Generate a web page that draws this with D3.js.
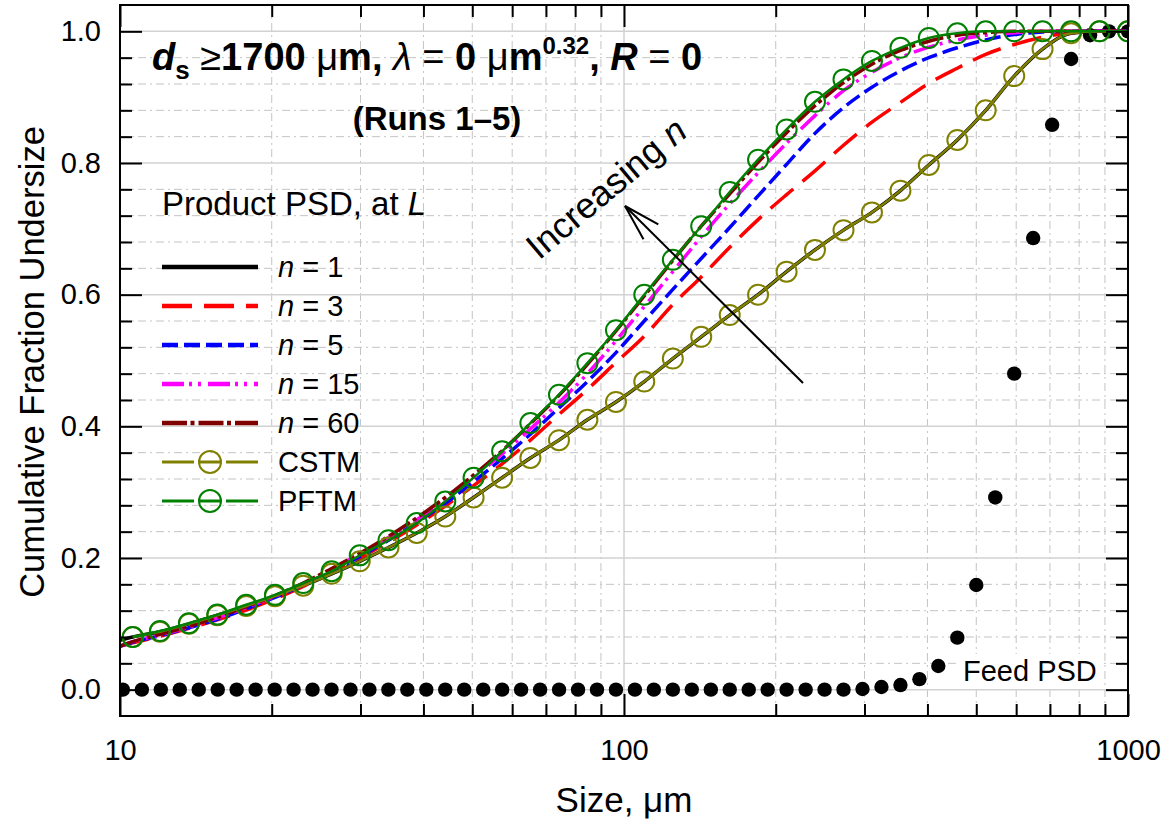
<!DOCTYPE html>
<html>
<head>
<meta charset="utf-8">
<script src="https://cdn.jsdelivr.net/npm/d3@7"></script>
<style>
  body { margin: 0; background: #fff; }
  svg { font-family: "Liberation Sans", Arial, sans-serif; }
</style>
</head>
<body>
<svg id="chart" width="1170" height="828"></svg>
<script>
// Feed PSD: sieve sizes (um) and cumulative fraction undersize
const feedSizes = [10.13, 11.05, 12.05, 13.14, 14.33, 15.63, 17.04, 18.58, 20.27, 22.1,
  24.1, 26.28, 28.66, 31.25, 34.08, 37.16, 40.53, 44.19, 48.19, 52.56,
  57.31, 62.5, 68.16, 74.33, 81.06, 88.39, 96.39, 105.1, 114.6, 125,
  136.3, 148.7, 162.1, 176.8, 192.8, 210.2, 229.3, 250, 272.6, 297.3,
  324.2, 353.6, 385.6, 420.4, 458.5, 500, 545.3, 594.6, 648.4, 707.1,
  771.1, 840.9, 917.0, 1000];
const feedValues = [0, 0, 0, 0, 0, 0, 0, 0, 0, 0,
  0, 0, 0, 0, 0, 0, 0, 0, 0, 0,
  0, 0, 0, 0, 0, 0, 0, 0, 0, 0,
  0, 0, 0, 0, 0, 0, 0, 0, 0, 0.001,
  0.004, 0.007, 0.016, 0.036, 0.079, 0.159, 0.292, 0.480, 0.686, 0.858,
  0.958, 0.994, 1.0, 1.0];

// model curves (n = 1..60), sizes in um
const lineSizes = [10, 10.6, 12.0, 13.7, 15.6, 17.8, 20.3, 23.1, 26.3, 29.9,
  34.1, 38.8, 44.2, 50.3, 57.3, 65.2, 74.3, 84.6, 96.4, 109.7,
  125.0, 142.3, 162.1, 184.5, 210.2, 239.3, 272.6, 310.4, 353.6, 402.5,
  458.5, 522.0, 594.6, 676.8, 770.9, 878.0, 1000];
const n1Values = [0.075, 0.080, 0.088, 0.100, 0.113, 0.127, 0.142, 0.158, 0.176, 0.195,
  0.216, 0.238, 0.263, 0.292, 0.322, 0.352, 0.379, 0.410, 0.437, 0.468,
  0.503, 0.536, 0.569, 0.600, 0.635, 0.668, 0.698, 0.725, 0.758, 0.797,
  0.835, 0.880, 0.932, 0.973, 0.997, 1.0, 1.0];
const n3Values = [0.066, 0.071, 0.081, 0.093, 0.106, 0.121, 0.138, 0.157, 0.178, 0.200,
  0.224, 0.250, 0.279, 0.310, 0.343, 0.379, 0.418, 0.456, 0.497, 0.537,
  0.585, 0.627, 0.672, 0.714, 0.752, 0.788, 0.827, 0.862, 0.892, 0.921,
  0.944, 0.965, 0.980, 0.991, 0.998, 1.0, 1.0];
const n5Values = [0.066, 0.072, 0.082, 0.094, 0.107, 0.123, 0.140, 0.159, 0.180, 0.202,
  0.227, 0.254, 0.283, 0.316, 0.351, 0.388, 0.428, 0.468, 0.512, 0.560,
  0.608, 0.655, 0.702, 0.750, 0.798, 0.845, 0.884, 0.915, 0.940, 0.960,
  0.975, 0.987, 0.995, 0.999, 1.0, 1.0, 1.0];
const n15Values = [0.066, 0.073, 0.083, 0.095, 0.109, 0.125, 0.142, 0.161, 0.183, 0.206,
  0.231, 0.258, 0.289, 0.322, 0.358, 0.396, 0.436, 0.480, 0.530, 0.582,
  0.635, 0.688, 0.738, 0.785, 0.830, 0.872, 0.910, 0.938, 0.960, 0.976,
  0.987, 0.994, 0.998, 1.0, 1.0, 1.0, 1.0];
const n60Values = [0.066, 0.073, 0.084, 0.096, 0.110, 0.126, 0.143, 0.162, 0.184, 0.207,
  0.233, 0.261, 0.292, 0.326, 0.363, 0.404, 0.447, 0.494, 0.545, 0.598,
  0.652, 0.704, 0.753, 0.801, 0.846, 0.887, 0.922, 0.950, 0.971, 0.985,
  0.994, 0.998, 1.0, 1.0, 1.0, 1.0, 1.0];

// tank-model results (symbols)
const markerSizes = [10.6, 12.0, 13.7, 15.6, 17.8, 20.3, 23.1, 26.3, 29.9, 34.1,
  38.8, 44.2, 50.3, 57.3, 65.2, 74.3, 84.6, 96.4, 109.7, 125.0,
  142.3, 162.1, 184.5, 210.2, 239.3, 272.6, 310.4, 353.6, 402.5, 458.5,
  522.0, 594.6, 676.8, 770.9, 878.0, 1000];
const cstmValues = [0.080, 0.088, 0.100, 0.113, 0.127, 0.142, 0.158, 0.176, 0.195, 0.216,
  0.238, 0.263, 0.292, 0.322, 0.352, 0.379, 0.410, 0.437, 0.468, 0.503,
  0.536, 0.569, 0.600, 0.635, 0.668, 0.698, 0.725, 0.758, 0.797, 0.835,
  0.880, 0.932, 0.973, 0.997, 1.0, 1.0];
const pftmValues = [0.080, 0.089, 0.101, 0.114, 0.129, 0.144, 0.162, 0.180, 0.204, 0.227,
  0.253, 0.286, 0.322, 0.362, 0.405, 0.448, 0.496, 0.546, 0.600, 0.653,
  0.704, 0.756, 0.805, 0.851, 0.893, 0.927, 0.955, 0.975, 0.990, 0.997,
  1.0, 1.0, 1.0, 1.0, 1.0, 1.0];

const xTickLabels = [10, 100, 1000];
const yTickLabels = [0, 0.2, 0.4, 0.6, 0.8, 1.0];

const lineSeries = [
  { name: '1', values: n1Values, color: '#000000', dash: null },
  { name: '3', values: n3Values, color: '#ff0000', dash: '30,12' },
  { name: '5', values: n5Values, color: '#0000ff', dash: '16,6' },
  { name: '15', values: n15Values, color: '#ff00ff', dash: '22,5,3,6,3,7' },
  { name: '60', values: n60Values, color: '#800000', dash: '25,3.5,4,4' }
];
const markerSeries = [
  { name: 'CSTM', values: cstmValues, color: '#808000' },
  { name: 'PFTM', values: pftmValues, color: '#008000' }
];

const svg = d3.select('#chart');
const plotLeft = 120, plotRight = 1128, plotTop = 5, plotBottom = 716;

const x = d3.scaleLog().domain([10, 1000]).range([plotLeft, plotRight]);
const y = d3.scaleLinear().domain([-0.04, 1.04]).range([plotBottom, plotTop]);

// --- grid ---
const grid = svg.append('g');
const xGrid = x.ticks().filter(d => d > 10 && d < 1000);
const isMajorX = d => Math.abs(Math.log10(d) - Math.round(Math.log10(d))) < 1e-9;
grid.selectAll('.gx').data(xGrid).enter().append('line')
  .attr('x1', d => x(d)).attr('x2', d => x(d))
  .attr('y1', plotTop).attr('y2', plotBottom)
  .attr('stroke', d => isMajorX(d) ? '#d2d2d2' : '#c4c4c4')
  .attr('stroke-width', d => isMajorX(d) ? 1.5 : 1)
  .attr('stroke-dasharray', d => isMajorX(d) ? null : '8,4,2,4');

const yGrid = d3.range(0, 1.0001, 0.04);
const isMajorY = d => Math.abs(d * 5 - Math.round(d * 5)) < 1e-6;
grid.selectAll('.gy').data(yGrid).enter().append('line')
  .attr('x1', plotLeft).attr('x2', plotRight)
  .attr('y1', d => y(d)).attr('y2', d => y(d))
  .attr('stroke', d => isMajorY(d) ? '#d2d2d2' : '#c4c4c4')
  .attr('stroke-width', d => isMajorY(d) ? 1.5 : 1)
  .attr('stroke-dasharray', d => isMajorY(d) ? null : '8,4,2,4');

// --- feed PSD label with white box ---
svg.append('rect').attr('x', 958).attr('y', 654).attr('width', 144).attr('height', 33).attr('fill', '#fff');
svg.append('text').attr('x', 963).attr('y', 681).attr('font-size', 29).text('Feed PSD');

// --- curves ---
svg.append('clipPath').attr('id', 'plot-clip').append('rect')
  .attr('x', plotLeft).attr('y', plotTop).attr('width', plotRight - plotLeft).attr('height', plotBottom - plotTop);
const plot = svg.append('g').attr('clip-path', 'url(#plot-clip)');

plot.selectAll('.feed').data(feedSizes).enter().append('circle')
  .attr('cx', d => x(d)).attr('cy', (d, i) => y(feedValues[i]))
  .attr('r', 7.2).attr('fill', '#000');

const line = d3.line()
  .x(d => x(d[0])).y(d => y(d[1]))
  .curve(d3.curveMonotoneX);

lineSeries.forEach(s => {
  plot.append('path')
    .datum(lineSizes.map((sz, i) => [sz, s.values[i]]))
    .attr('d', line)
    .attr('fill', 'none')
    .attr('stroke', s.color)
    .attr('stroke-width', 3.5)
    .attr('stroke-dasharray', s.dash);
});

markerSeries.forEach(s => {
  const pts = markerSizes.map((sz, i) => [sz, s.values[i]]);
  plot.append('path').datum(pts).attr('d', line)
    .attr('fill', 'none').attr('stroke', s.color).attr('stroke-width', 2.5);
  plot.selectAll(null).data(pts).enter().append('circle')
    .attr('cx', d => x(d[0])).attr('cy', d => y(d[1]))
    .attr('r', 10).attr('fill', 'none')
    .attr('stroke', s.color).attr('stroke-width', 2);
});

// --- axes (ticks point inward) ---
const fontFamily = '"Liberation Sans", Arial, sans-serif';
const minorX = x.ticks().filter(d => !isMajorX(d));
const minorY = yGrid.filter(d => !isMajorY(d));

function styleAxis(g) {
  g.select('.domain').remove();
  g.selectAll('.tick line').attr('stroke', '#000').attr('stroke-width', 2);
  g.attr('font-family', fontFamily).attr('font-size', 29);
  g.selectAll('.tick text').attr('fill', '#000');
}

svg.append('g').attr('transform', `translate(0,${plotBottom})`)
  .call(d3.axisBottom(x).tickValues(minorX).tickSize(-12).tickFormat(''))
  .call(styleAxis);
svg.append('g').attr('transform', `translate(0,${plotBottom})`)
  .call(d3.axisBottom(x).tickValues(xTickLabels).tickSize(-22).tickPadding(23).tickFormat(d3.format('d')))
  .call(styleAxis);
svg.append('g').attr('transform', `translate(0,${plotTop})`)
  .call(d3.axisTop(x).tickValues(minorX).tickSize(-12).tickFormat(''))
  .call(styleAxis);
svg.append('g').attr('transform', `translate(0,${plotTop})`)
  .call(d3.axisTop(x).tickValues(xTickLabels).tickSize(-22).tickFormat(''))
  .call(styleAxis);

svg.append('g').attr('transform', `translate(${plotLeft},0)`)
  .call(d3.axisLeft(y).tickValues(minorY).tickSize(-12).tickFormat(''))
  .call(styleAxis);
svg.append('g').attr('transform', `translate(${plotLeft},0)`)
  .call(d3.axisLeft(y).tickValues(yTickLabels).tickSize(-22).tickPadding(19).tickFormat(d3.format('.1f')))
  .call(styleAxis);
svg.append('g').attr('transform', `translate(${plotRight},0)`)
  .call(d3.axisRight(y).tickValues(minorY).tickSize(-12).tickFormat(''))
  .call(styleAxis);
svg.append('g').attr('transform', `translate(${plotRight},0)`)
  .call(d3.axisRight(y).tickValues(yTickLabels).tickSize(-22).tickFormat(''))
  .call(styleAxis);

svg.append('rect')
  .attr('x', plotLeft).attr('y', plotTop).attr('width', plotRight - plotLeft).attr('height', plotBottom - plotTop)
  .attr('fill', 'none').attr('stroke', '#000').attr('stroke-width', 2);

// axis titles
svg.append('text').attr('x', 624).attr('y', 812).attr('text-anchor', 'middle')
  .attr('font-size', 35).text('Size, \u03bcm');
svg.append('text').attr('transform', 'translate(44,362) rotate(-90)')
  .attr('text-anchor', 'middle').attr('font-size', 34.5).text('Cumulative Fraction Undersize');

// --- title ---
const title = svg.append('text').attr('x', 152).attr('y', 70)
  .attr('font-size', 38).attr('font-weight', 'bold').style('white-space', 'pre');
const titleParts = [
  { t: 'd', italic: true },
  { t: 's', shift: 9, size: 26 },
  { t: ' \u2265', normal: true, shift: -9 },
  { t: '1700 ' },
  { t: '\u03bc', normal: true },
  { t: 'm, ' },
  { t: '\u03bb', italic: true, normal: true },
  { t: ' = ', normal: true },
  { t: '0 ' },
  { t: '\u03bc', normal: true },
  { t: 'm' },
  { t: '0.32', shift: -16, size: 24 },
  { t: ', ', shift: 16 },
  { t: 'R', italic: true },
  { t: ' = ', normal: true },
  { t: '0' }
];
titleParts.forEach(p => {
  const ts = title.append('tspan').text(p.t);
  if (p.italic) ts.attr('font-style', 'italic');
  if (p.normal) ts.attr('font-weight', 'normal');
  if (p.shift) ts.attr('dy', p.shift);
  if (p.size) ts.attr('font-size', p.size);
});
svg.append('text').attr('x', 437).attr('y', 130).attr('text-anchor', 'middle')
  .attr('font-size', 33).attr('font-weight', 'bold').text('(Runs 1\u20135)');

// --- legend ---
const legend = svg.append('g').attr('font-size', 29).style('white-space', 'pre');
const header = legend.append('text').attr('x', 162).attr('y', 215).attr('font-size', 33);
header.append('tspan').text('Product PSD, at ');
header.append('tspan').attr('font-style', 'italic').text('L');

const rowY = i => 267 + i * 39;
lineSeries.forEach((s, i) => {
  legend.append('line').attr('x1', 162).attr('x2', 258).attr('y1', rowY(i)).attr('y2', rowY(i))
    .attr('stroke', s.color).attr('stroke-width', 4.5).attr('stroke-dasharray', s.dash);
  const t = legend.append('text').attr('x', 278).attr('y', rowY(i) + 10);
  t.append('tspan').attr('font-style', 'italic').text('n');
  t.append('tspan').text(' = ' + s.name);
});
markerSeries.forEach((s, j) => {
  const yy = rowY(lineSeries.length + j);
  [[162, 194], [199, 221], [226, 258]].forEach(seg => {
    legend.append('line').attr('x1', seg[0]).attr('x2', seg[1]).attr('y1', yy).attr('y2', yy)
      .attr('stroke', s.color).attr('stroke-width', 3);
  });
  legend.append('circle').attr('cx', 210).attr('cy', yy).attr('r', 11)
    .attr('fill', 'none').attr('stroke', s.color).attr('stroke-width', 2);
  legend.append('text').attr('x', 278).attr('y', yy + 10).text(s.name);
});

// --- annotation arrow ---
const tip = [625, 206], tail = [803, 383];
const ang = Math.atan2(tail[1] - tip[1], tail[0] - tip[0]);
const wing = a => [tip[0] + 38 * Math.cos(ang + a), tip[1] + 38 * Math.sin(ang + a)];
const ann = svg.append('g').attr('stroke', '#000').attr('stroke-width', 2).attr('fill', 'none');
ann.append('line').attr('x1', tail[0]).attr('y1', tail[1]).attr('x2', tip[0]).attr('y2', tip[1]);
[0.28, -0.28].forEach(a => {
  const w = wing(a);
  ann.append('line').attr('x1', tip[0]).attr('y1', tip[1]).attr('x2', w[0]).attr('y2', w[1]);
});
const inc = svg.append('text').attr('transform', 'translate(606,188) rotate(-40)')
  .attr('text-anchor', 'middle').attr('dy', '0.35em').attr('font-size', 36).style('white-space', 'pre');
inc.append('tspan').text('Increasing ');
inc.append('tspan').attr('font-style', 'italic').text('n');
</script>
</body>
</html>
